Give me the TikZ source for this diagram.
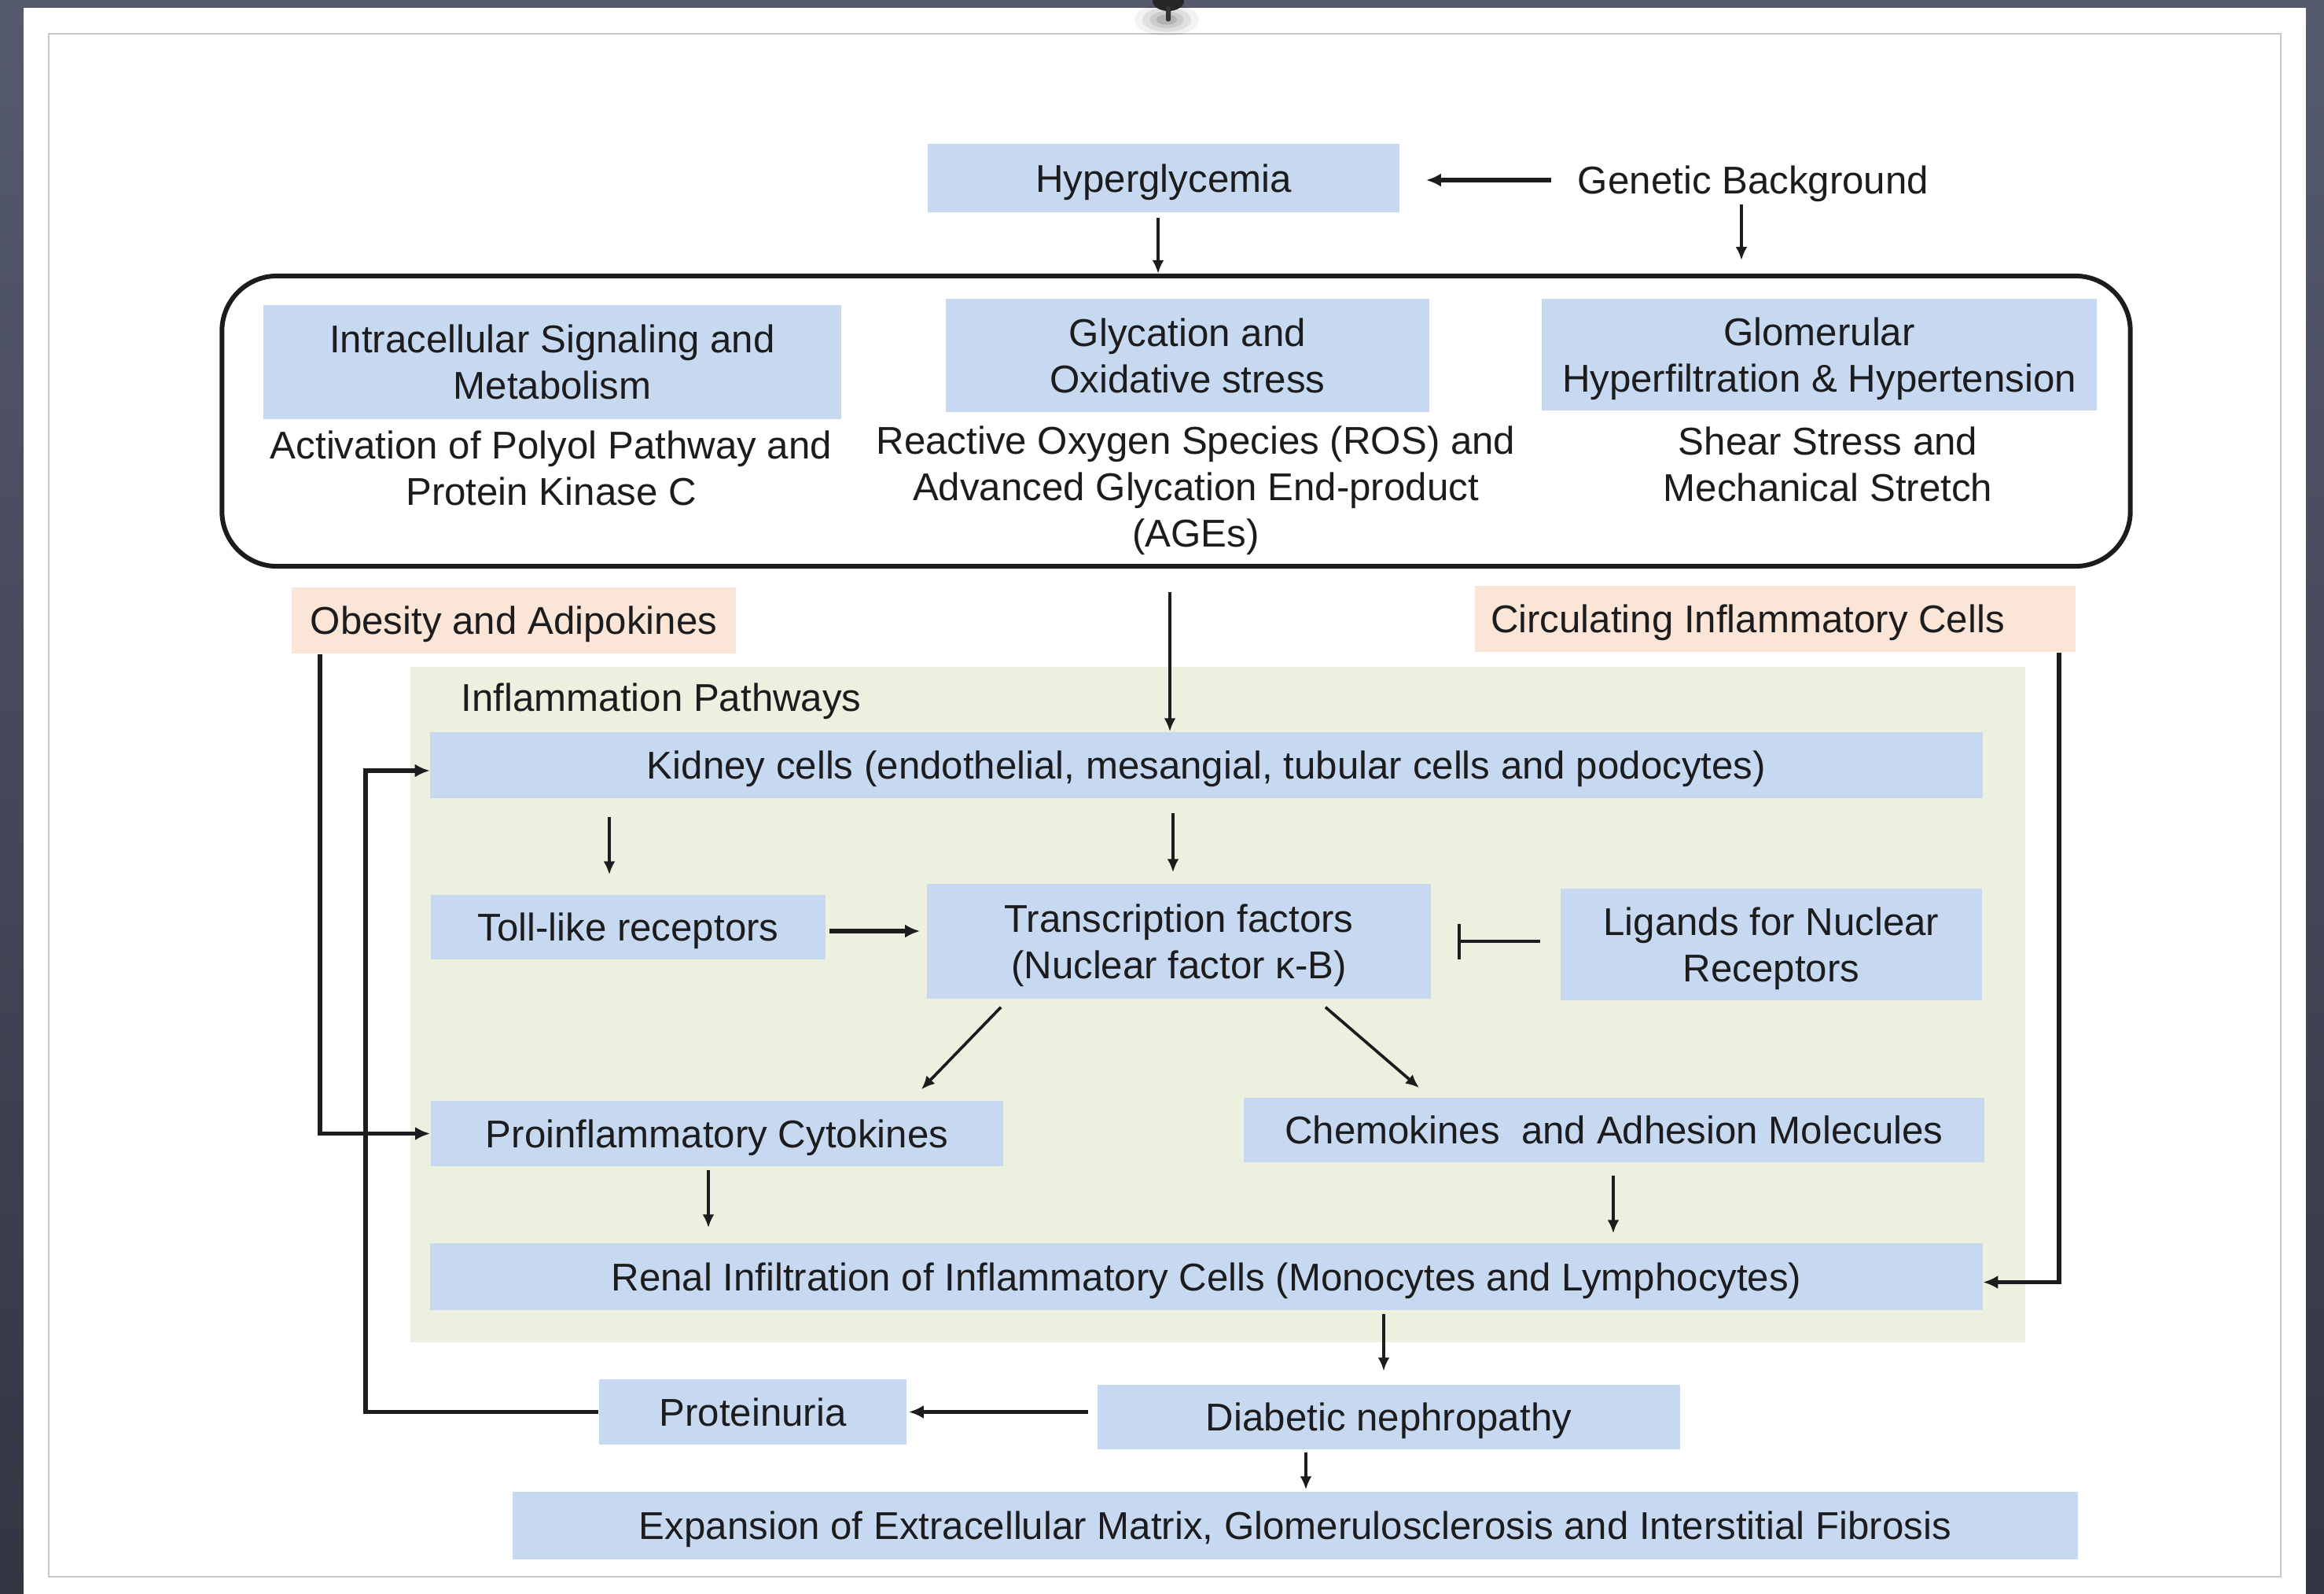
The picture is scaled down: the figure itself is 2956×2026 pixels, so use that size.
\documentclass[tikz,border=0pt]{standalone}
\usepackage{fontspec}
\setmainfont{Liberation Sans}
\usetikzlibrary{arrows.meta,calc}

\definecolor{ink}{RGB}{28,28,30}
\definecolor{boxblue}{HTML}{C6D9F1}
\definecolor{peach}{HTML}{FBE5D6}
\definecolor{panelgreen}{HTML}{EBF1DE}
\definecolor{framegray}{RGB}{200,200,202}
\definecolor{slatetop}{RGB}{86,90,110}
\definecolor{slatebot}{RGB}{50,53,66}

\begin{document}
\begin{tikzpicture}[x=0.01cm,y=-0.01cm,
  every node/.style={font=\fontsize{14pt}{16.8pt}\selectfont, text=ink, text depth=0pt},
  blk/.style={fill=boxblue, inner sep=0pt, align=center},
  pch/.style={fill=peach, inner sep=0pt, align=center},
  txt/.style={inner sep=0pt, align=center},
  arr/.style={draw=ink, line width=1.05pt, -{Latex[length=0.17cm,width=0.15cm]}},
  heavy/.style={draw=ink, line width=1.45pt, -{Latex[length=0.19cm,width=0.17cm]}},
  link/.style={draw=ink, line width=1.3pt},
]
\useasboundingbox (0,0) rectangle (2956,2026);
\clip (0,0) rectangle (2956,2026);

% slide backdrop and sheet
\shade[top color=slatetop, bottom color=slatebot] (0,0) rectangle (2956,2026);
\fill[white] (30,10) rectangle (2933,2030);
\draw[framegray, line width=0.45pt] (62,43) rectangle (2901,2005);

% pin holding the sheet
\foreach \r/\o in {34/0.05,26/0.07,18/0.09,11/0.12}
  \fill[black, opacity=\o] (1484,25) ellipse [x radius=\r*0.012cm, y radius=\r*0.006cm];
\fill[black!85] (1486,1) ellipse [x radius=0.2cm, y radius=0.13cm];
\fill[black!80, rounded corners=0.02cm] (1483,8) rectangle (1489,27);

% top row
\node[blk, minimum width=6cm, minimum height=0.87cm] (hyper) at (1480,226.5) {Hyperglycemia};
\node[txt] (genetic) at (2230,229) {Genetic Background};

% mechanisms frame
\node[draw=ink, line width=1.7pt, rounded corners=0.7cm, minimum width=24.26cm,
      minimum height=3.69cm, inner sep=0pt] (stage) at (1496,535.5) {};
\node[blk, minimum width=7.35cm, minimum height=1.45cm] (intra) at (702.5,460.5) {Intracellular Signaling and\\Metabolism};
\node[txt] (intranote) at (701,595) {Activation of Polyol Pathway and\\Protein Kinase C};
\node[blk, minimum width=6.15cm, minimum height=1.44cm] (glyc) at (1510.5,452) {Glycation and\\Oxidative stress};
\node[txt] (glycnote) at (1521,619) {Reactive Oxygen Species (ROS) and\\Advanced Glycation End-product\\(AGEs)};
\node[blk, minimum width=7.06cm, minimum height=1.42cm] (glom) at (2314,451) {Glomerular\\Hyperfiltration \& Hypertension};
\node[txt] (glomnote) at (2325,590) {Shear Stress and\\Mechanical Stretch};

% external factors
\node[pch, minimum width=5.65cm, minimum height=0.84cm] (obes) at (653.5,789) {Obesity and Adipokines};
\node[pch, minimum width=7.64cm, minimum height=0.84cm] (circ) at (2258,787) {};
\node[txt] (circtext) at (2223,787) {Circulating Inflammatory Cells};

% inflammation pathways panel
\node[fill=panelgreen, minimum width=20.52cm, minimum height=8.59cm, inner sep=0pt] (panel) at (1549,1277.5) {};
\node[txt, anchor=west] (paneltitle) at (586,887) {Inflammation Pathways};

\node[blk, minimum width=19.73cm, minimum height=0.84cm] (kidney) at (1534.5,973) {Kidney cells (endothelial, mesangial, tubular cells and podocytes)};
\node[blk, minimum width=5.02cm, minimum height=0.82cm] (toll) at (799,1179) {Toll-like receptors};
\node[blk, minimum width=6.41cm, minimum height=1.46cm] (trans) at (1499.5,1197) {Transcription factors\\(Nuclear factor κ-B)};
\node[blk, minimum width=5.36cm, minimum height=1.42cm] (lig) at (2253,1201) {Ligands for Nuclear\\Receptors};
\node[blk, minimum width=7.28cm, minimum height=0.83cm] (pro) at (912,1441.5) {Proinflammatory Cytokines};
\node[blk, minimum width=9.42cm, minimum height=0.82cm] (chem) at (2053,1437) {Chemokines\ \ and Adhesion Molecules};
\node[blk, minimum width=19.73cm, minimum height=0.85cm] (renal) at (1534.5,1623.5) {Renal Infiltration of Inflammatory Cells (Monocytes and Lymphocytes)};

% outcomes
\node[blk, minimum width=7.41cm, minimum height=0.82cm] (diab) at (1766.5,1802) {Diabetic nephropathy};
\node[blk, minimum width=3.91cm, minimum height=0.83cm] (prot) at (957.5,1795.5) {Proteinuria};
\node[blk, minimum width=19.89cm, minimum height=0.86cm] (expn) at (1647.5,1940) {Expansion of Extracellular Matrix, Glomerulosclerosis and Interstitial Fibrosis};

% x positions of the vertical connectors
\coordinate (xa) at (1473,0);
\coordinate (gx) at (2215,0);
\coordinate (sx) at (1488,0);
\coordinate (tx) at (775,0);
\coordinate (kx) at (1492,0);
\coordinate (px) at (901,0);
\coordinate (cx) at (2052,0);
\coordinate (rx) at (2619,0);
\coordinate (ox) at (407,0);
\coordinate (fx) at (465,0);
\coordinate (dx) at (1760,0);
\coordinate (ex) at (1661,0);

% connectors
\draw[arr, shorten <=0.06cm] (hyper.south -| xa) -- (stage.north -| xa);
\draw[heavy, shorten <=0.33cm, shorten >=0.33cm] (genetic.west) -- (hyper.east |- genetic.west);
\draw[arr, shorten <=0.12cm, shorten >=0.17cm] (genetic.south -| gx) -- (stage.north -| gx);
\draw[arr, shorten <=0.3cm] (stage.south -| sx) -- (kidney.north -| sx);

\draw[arr, shorten <=0.23cm, shorten >=0.25cm] (kidney.south -| tx) -- (toll.north -| tx);
\draw[arr, shorten <=0.18cm, shorten >=0.14cm] (kidney.south -| kx) -- (trans.north -| kx);
\draw[heavy, shorten <=0.04cm, shorten >=0.08cm] ($(toll.east)+(0,5)$) -- ($(trans.west |- toll.east)+(0,5)$);
\draw[link, -{Bar[width=0.45cm]}, shorten <=0.25cm, shorten >=0.33cm] (lig.west |- trans.east) -- (trans.east);

\draw[arr] ($(trans.south west)+(95,10)$) -- ($(pro.north east)+(-105,-14)$);
\draw[arr] ($(trans.south east)+(-135,10)$) -- ($(chem.north west)+(224,-12)$);

\draw[arr, shorten <=0.04cm, shorten >=0.19cm] (pro.south -| px) -- (renal.north -| px);
\draw[arr, shorten <=0.16cm, shorten >=0.12cm] (chem.south -| cx) -- (renal.north -| cx);

\draw[heavy] (circ.south -| rx) |- ($(renal.east)+(0,7)$);
\draw[heavy] (obes.south -| ox) |- (pro.west);
\draw[heavy] (prot.west) -| ($(fx |- kidney.west)+(0,7)$) -- ($(kidney.west)+(0,7)$);

\draw[arr, shorten <=0.04cm, shorten >=0.17cm] (renal.south -| dx) -- (diab.north -| dx);
\draw[heavy, shorten <=0.11cm, shorten >=0.02cm] (diab.west |- prot.east) -- (prot.east);
\draw[arr, shorten <=0.03cm, shorten >=0.02cm] (diab.south -| ex) -- (expn.north -| ex);
\end{tikzpicture}
\end{document}
